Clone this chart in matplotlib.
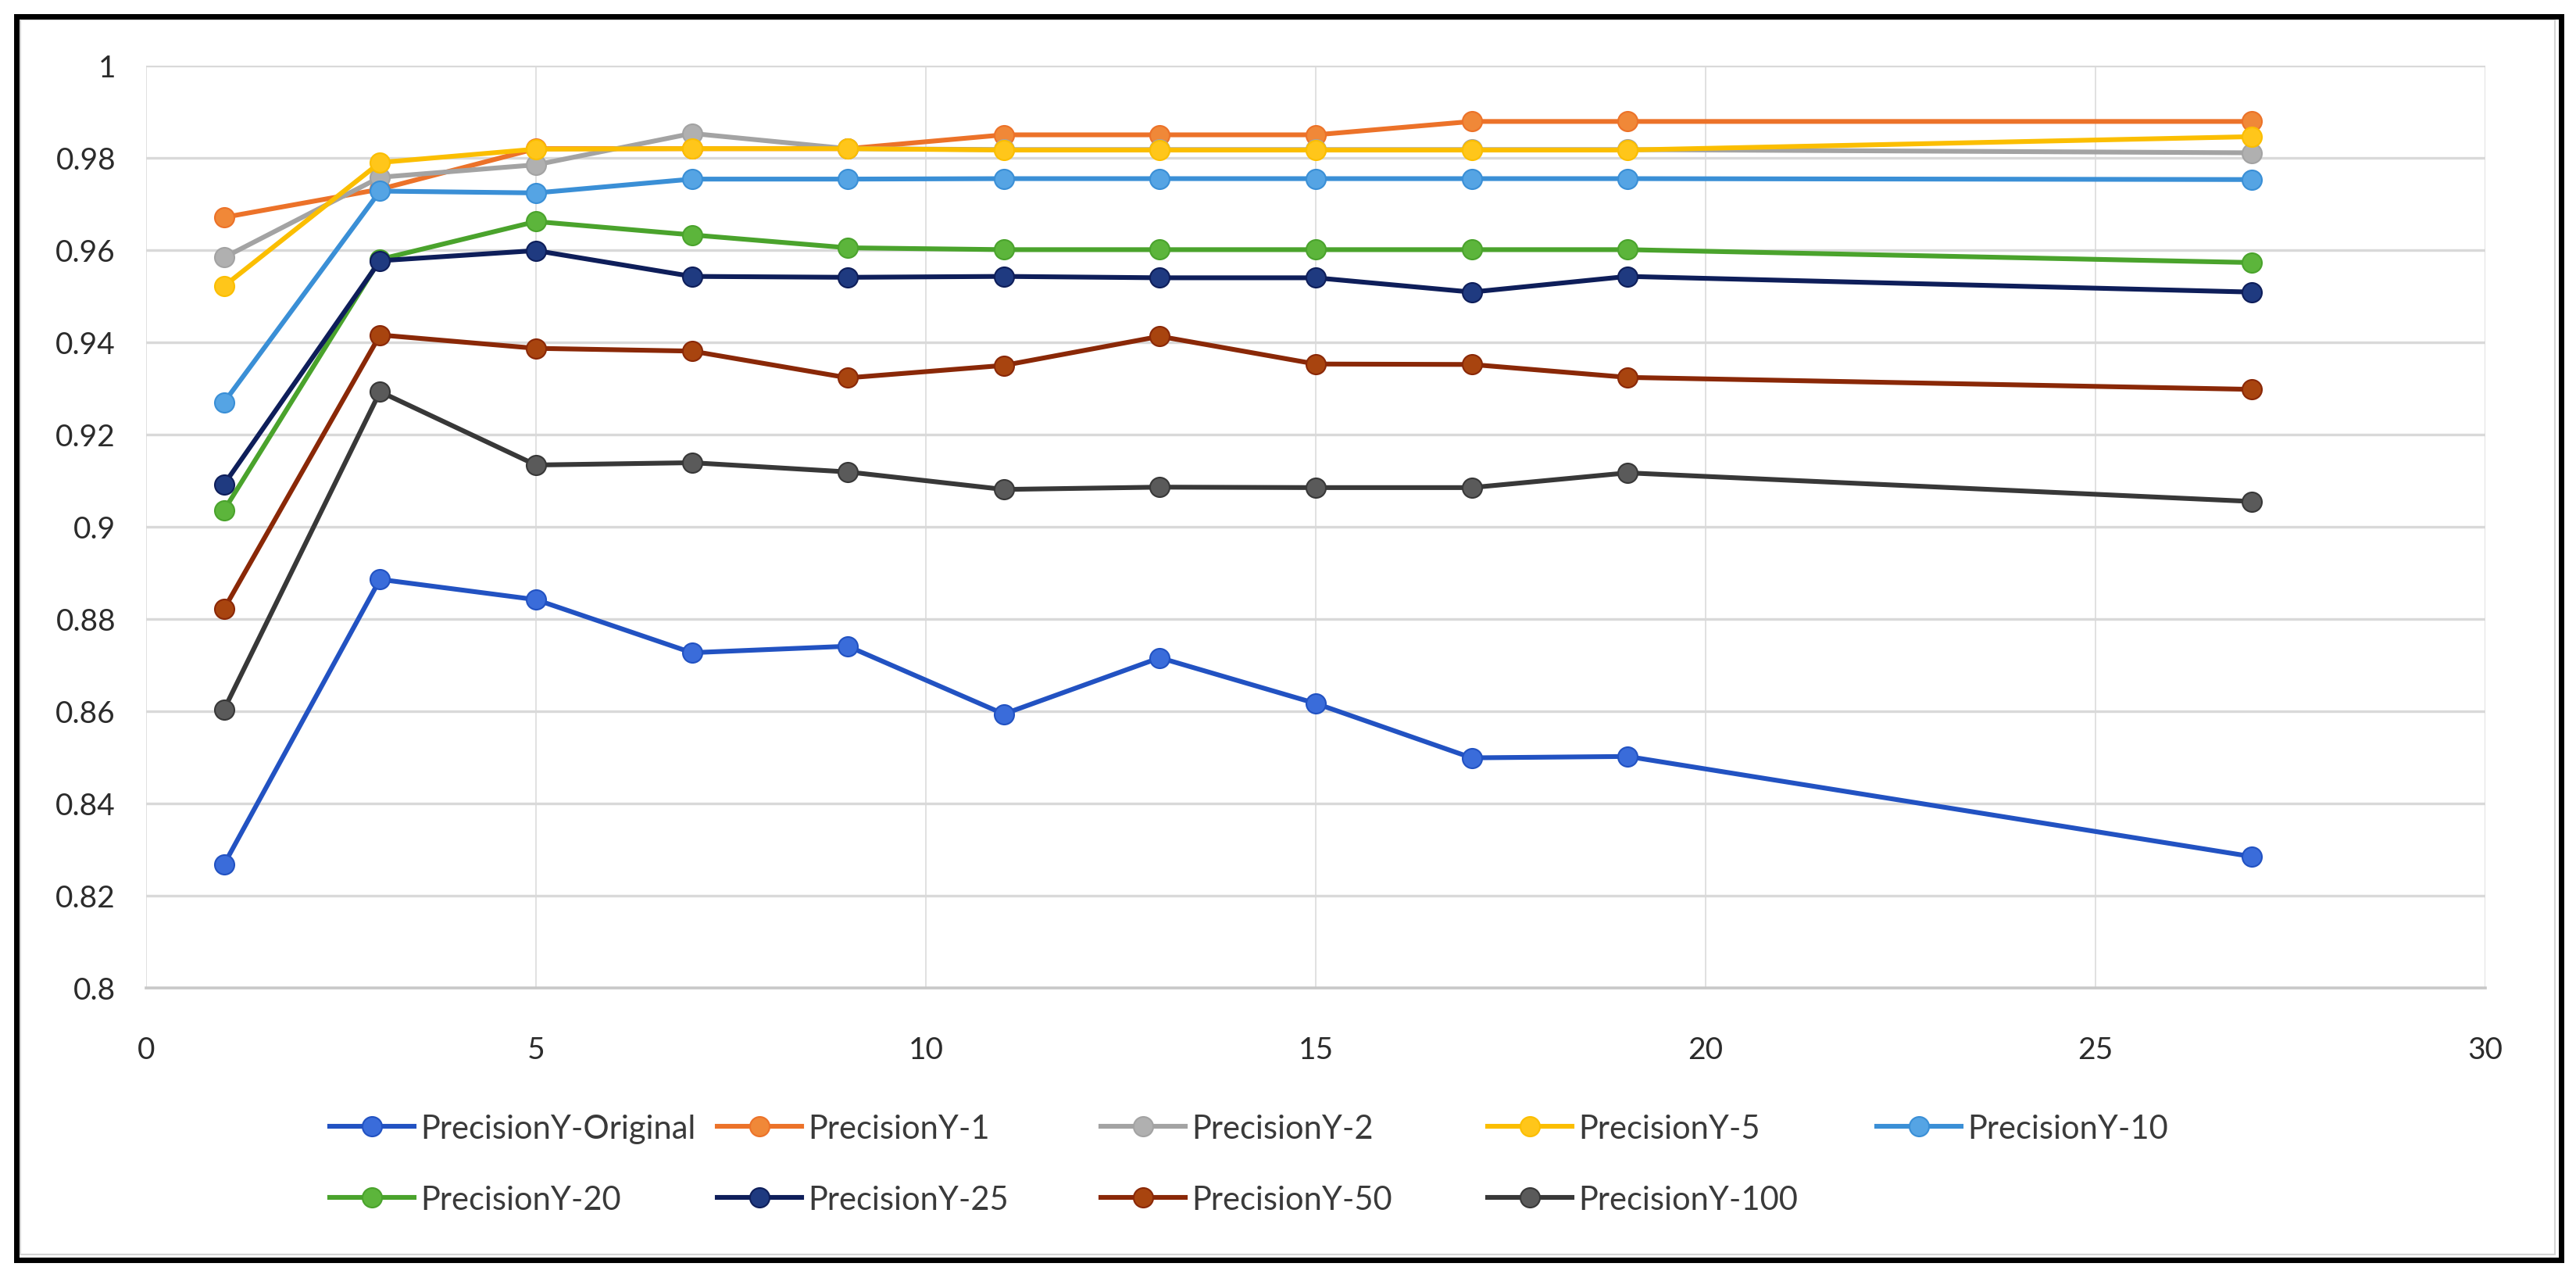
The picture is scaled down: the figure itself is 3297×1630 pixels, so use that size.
import matplotlib
matplotlib.use("Agg")
import matplotlib.pyplot as plt
import matplotlib.patches as mpatches
from matplotlib.ticker import FuncFormatter, MultipleLocator

plt.rcParams['font.family'] = ['Lato', 'DejaVu Sans']

# x positions shared by every series
steps = [1, 3, 5, 7, 9, 11, 13, 15, 17, 19, 27]

# values
prec_original = [0.8268, 0.8886, 0.8842, 0.8727, 0.8741, 0.8594, 0.8716, 0.8617, 0.8499, 0.8502, 0.8285]
prec_1 = [0.9671, 0.9732, 0.9820, 0.9820, 0.9820, 0.9850, 0.9850, 0.9850, 0.9879, 0.9879, 0.9879]
prec_2 = [0.9584, 0.9758, 0.9785, 0.9853, 0.9820, 0.9818, 0.9818, 0.9818, 0.9818, 0.9818, 0.9811]
prec_5 = [0.9522, 0.9790, 0.9819, 0.9820, 0.9820, 0.9817, 0.9817, 0.9817, 0.9817, 0.9817, 0.9846]
prec_10 = [0.9270, 0.9728, 0.9724, 0.9754, 0.9754, 0.9755, 0.9755, 0.9755, 0.9755, 0.9755, 0.9753]
prec_20 = [0.9036, 0.9580, 0.9662, 0.9633, 0.9605, 0.9601, 0.9601, 0.9601, 0.9601, 0.9601, 0.9573]
prec_25 = [0.9092, 0.9577, 0.9599, 0.9543, 0.9541, 0.9543, 0.9540, 0.9540, 0.9509, 0.9543, 0.9509]
prec_50 = [0.8822, 0.9416, 0.9387, 0.9381, 0.9323, 0.9350, 0.9413, 0.9353, 0.9352, 0.9324, 0.9298]
prec_100 = [0.8604, 0.9293, 0.9134, 0.9139, 0.9119, 0.9081, 0.9086, 0.9085, 0.9085, 0.9117, 0.9055]

labels = ['PrecisionY-Original', 'PrecisionY-1', 'PrecisionY-2', 'PrecisionY-5', 'PrecisionY-10',
          'PrecisionY-20', 'PrecisionY-25', 'PrecisionY-50', 'PrecisionY-100']
series = [prec_original, prec_1, prec_2, prec_5, prec_10, prec_20, prec_25, prec_50, prec_100]
line_colors = ['#2252C2', '#EC7229', '#A3A3A3', '#FBBE00', '#3A8FD6', '#4AA32C', '#0E1E5A', '#8A2807', '#383838']
fill_colors = ['#3A6CDA', '#F08838', '#B0B0B0', '#FFC61A', '#55A4E4', '#5CB53B', '#1F3A80', '#A8440F', '#5A5A5A']

W, H = 3297, 1631
fig = plt.figure(figsize=(W / 100, H / 100), dpi=100)
ax = fig.add_axes([187 / W, 1 - 1265 / H, (3181 - 187) / W, (1265 - 85) / H])

lines = []
for vals, lab, lc, fc in zip(series, labels, line_colors, fill_colors):
    ln, = ax.plot(steps, vals, color=lc, lw=4.4, marker='o', markersize=18,
                  markerfacecolor=fc, markeredgecolor=lc, markeredgewidth=1.5,
                  label=lab, zorder=3)
    lines.append(ln)

ax.set_xlim(0, 30)
ax.set_ylim(0.8, 1.0)
ax.xaxis.set_major_locator(MultipleLocator(5))
ax.yaxis.set_major_locator(MultipleLocator(0.02))
ax.xaxis.set_major_formatter(FuncFormatter(lambda v, p: f'{v:g}'))
ax.yaxis.set_major_formatter(FuncFormatter(lambda v, p: f'{round(v, 2):g}'))
ax.tick_params(axis='both', length=0, labelsize=28, labelcolor='#2B2B2B')
ax.tick_params(axis='x', pad=44)
ax.tick_params(axis='y', pad=28)

ax.grid(axis='y', color='#D9D9D9', lw=2.4, zorder=0)
ax.grid(axis='x', color='#DEDEDE', lw=1.3, zorder=0)
ax.set_axisbelow(True)
for side in ['top', 'right', 'left']:
    ax.spines[side].set_visible(False)
ax.spines['bottom'].set_color('#C8C8C8')
ax.spines['bottom'].set_linewidth(2.6)

# legend laid out as five equal columns, like the spreadsheet one
col_x = [422, 918, 1409, 1904, 2402]
for c in range(5):
    hs = [lines[c]] + ([lines[c + 5]] if c + 5 < len(lines) else [])
    fig.legend(handles=hs, loc='upper left', bbox_to_anchor=(col_x[c] / W, 1 - 1426 / H),
               frameon=False, fontsize=30, handlelength=2.6, handletextpad=0.2,
               labelspacing=1.27, borderpad=0, borderaxespad=0, labelcolor='#3A3A3A')

# chart frame
fig.patches.append(mpatches.Rectangle((26 / W, 1 - 1606 / H), (3270 - 26) / W, (1606 - 26) / H,
                                      transform=fig.transFigure, fill=False,
                                      edgecolor='#D4D4D4', lw=1.5))
fig.patches.append(mpatches.Rectangle((20.5 / W, 1 - 1612.5 / H), (3278 - 20.5) / W, (1612.5 - 22) / H,
                                      transform=fig.transFigure, fill=False,
                                      edgecolor='black', lw=5))

fig.savefig('out.png', dpi=100)
